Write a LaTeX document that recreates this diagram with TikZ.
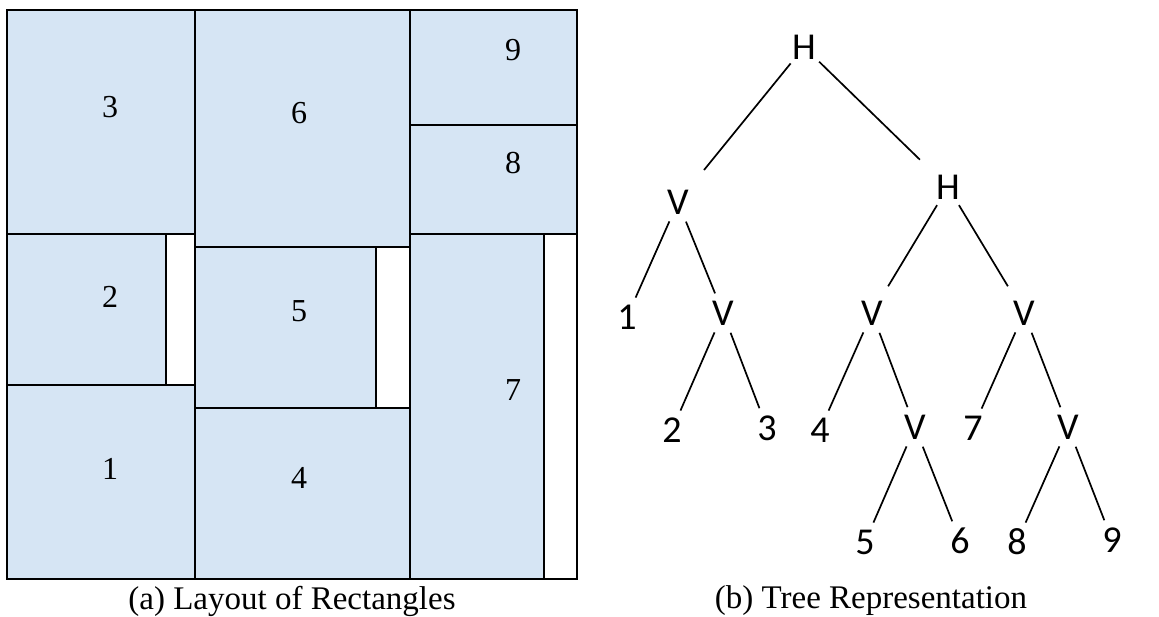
\documentclass[tikz,border=0pt]{standalone}
\usepackage{fontspec}
\setmainfont{Liberation Serif}
\newfontfamily\treefont{Carlito}
\usetikzlibrary{positioning}
\definecolor{cellblue}{RGB}{214,229,244}
\tikzset{
  cell/.style={draw, fill=cellblue, line width=2pt},
  hole/.style={draw, fill=white, line width=2pt},
  cellnum/.style={font=\fontsize{32}{38}\selectfont},
  tnode/.style={circle, minimum size=42pt, inner sep=0pt, font=\treefont\fontsize{38}{44}\selectfont},
  branch/.style={line width=1.7pt},
  capt/.style={font=\fontsize{33}{38}\selectfont}
}

\begin{document}
\begin{tikzpicture}[x=1pt,y=-1pt]
\useasboundingbox (0,0) rectangle (1159,617);

% (a) layout of rectangles
\draw[cell] (7,10) rectangle (195,234);
\draw[cell] (7,234) rectangle (166,385);
\draw[hole] (166,234) rectangle (195,385);
\draw[cell] (7,385) rectangle (195,579);
\draw[cell] (195,10) rectangle (410,247);
\draw[cell] (195,247) rectangle (376,408);
\draw[hole] (376,247) rectangle (410,408);
\draw[cell] (195,408) rectangle (410,579);
\draw[cell] (410,10) rectangle (577,125);
\draw[cell] (410,125) rectangle (577,234);
\draw[cell] (410,234) rectangle (544,579);
\draw[hole] (544,234) rectangle (577,579);

\node[cellnum] (r3) at (110,107) {3};
\node[cellnum] (r2) at (110,297) {2};
\node[cellnum] (r1) at (110,469) {1};
\node[cellnum] (r6) at (299,113) {6};
\node[cellnum] (r5) at (299,311) {5};
\node[cellnum] (r4) at (299,478) {4};
\node[cellnum] (r9) at (513,50) {9};
\node[cellnum] (r8) at (513,163) {8};
\node[cellnum] (r7) at (513,390) {7};

\node[capt] (capa) at (292,601) {(a) Layout of Rectangles};

% (b) tree representation
\node[tnode] (root) at (804,47) {H};
\node[tnode] (vA) at (678,202) {V};
\node[tnode] (hB) at (948,187) {H};
\node[tnode] (l1) at (627,317) {1};
\node[tnode] (vC) at (723,313) {V};
\node[tnode] (vD) at (872,313) {V};
\node[tnode] (vE) at (1024,313) {V};
\node[tnode] (l2) at (672,430) {2};
\node[tnode] (l3) at (767,428) {3};
\node[tnode] (l4) at (820,430) {4};
\node[tnode] (vF) at (915,427) {V};
\node[tnode] (l7) at (973,428) {7};
\node[tnode] (vG) at (1068,427) {V};
\node[tnode] (l5) at (865,542) {5};
\node[tnode] (l6) at (960,541) {6};
\node[tnode] (l8) at (1017,542) {8};
\node[tnode] (l9) at (1112,540) {9};

\draw[branch, shorten >=20pt] (root) -- (vA);
\draw[branch, shorten >=18pt] (root) -- (hB);
\draw[branch] (vA) -- (l1);
\draw[branch] (vA) -- (vC);
\draw[branch, shorten >=10pt] (hB) -- (vD);
\draw[branch, shorten >=10pt] (hB) -- (vE);
\draw[branch] (vC) -- (l2);
\draw[branch] (vC) -- (l3);
\draw[branch] (vD) -- (l4);
\draw[branch] (vD) -- (vF);
\draw[branch] (vE) -- (l7);
\draw[branch] (vE) -- (vG);
\draw[branch] (vF) -- (l5);
\draw[branch] (vF) -- (l6);
\draw[branch] (vG) -- (l8);
\draw[branch] (vG) -- (l9);

\node[capt] (capb) at (871,601) {(b) Tree Representation};

\end{tikzpicture}
\end{document}
